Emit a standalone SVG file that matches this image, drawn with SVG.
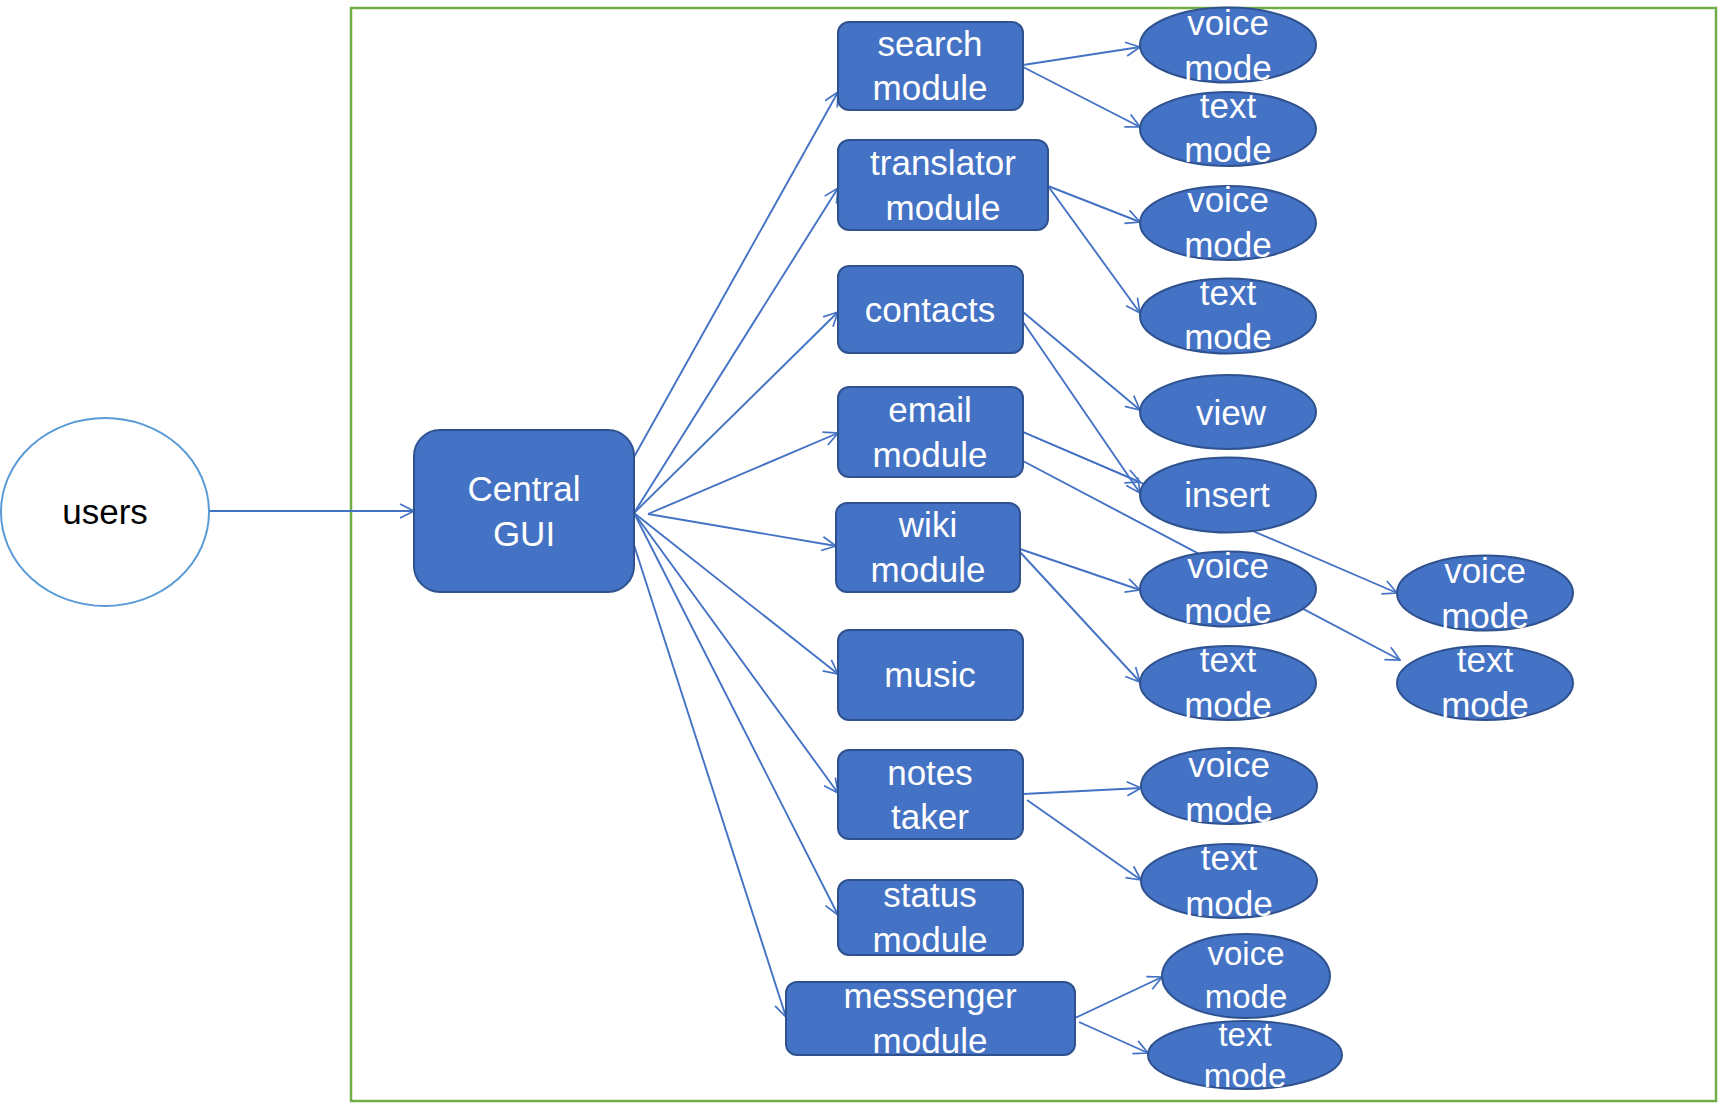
<svg xmlns="http://www.w3.org/2000/svg" width="1718" height="1103" viewBox="0 0 1718 1103">
<defs>
<marker id="arr" viewBox="0 0 16 16" markerWidth="16" markerHeight="16" refX="15" refY="8" orient="auto" markerUnits="userSpaceOnUse">
<path d="M1,1 L15,8 L1,15" fill="none" stroke="#4472C4" stroke-width="1.7"/>
</marker>
</defs>
<style>
.bg{fill:#FFFFFF}
.frame{fill:none;stroke:#70AD47;stroke-width:2.5}
.c{stroke:#4472C4;stroke-width:1.9;fill:none;marker-end:url(#arr)}
.n{fill:#4472C4;stroke:#2F528F;stroke-width:2}
.t{fill:#FFFFFF;font-family:"Liberation Sans",Arial,sans-serif;font-size:35px;text-anchor:middle}
.s{font-size:33px}
.u{fill:#FFFFFF;stroke:#5B9BD5;stroke-width:2}
.ut{fill:#000000;font-family:"Liberation Sans",Arial,sans-serif;font-size:35px;text-anchor:middle}
</style>
<rect class="bg" x="0" y="0" width="1718" height="1103"/>
<rect id="frame" class="frame" x="351" y="8" width="1365" height="1093"/>
<g id="connectors">
<line class="c" x1="209" y1="511" x2="414" y2="511"/>
<line class="c" x1="634" y1="457" x2="838" y2="92"/>
<line class="c" x1="634" y1="513" x2="838" y2="188"/>
<line class="c" x1="634" y1="513" x2="838" y2="312"/>
<line class="c" x1="648" y1="514" x2="838" y2="433"/>
<line class="c" x1="648" y1="514" x2="836" y2="546"/>
<line class="c" x1="634" y1="513" x2="838" y2="674"/>
<line class="c" x1="634" y1="513" x2="838" y2="793"/>
<line class="c" x1="634" y1="513" x2="838" y2="915"/>
<line class="c" x1="634" y1="545" x2="786" y2="1017"/>
<line class="c" x1="1023" y1="65" x2="1140" y2="47"/>
<line class="c" x1="1023" y1="67" x2="1140" y2="127"/>
<line class="c" x1="1048" y1="186" x2="1140" y2="222"/>
<line class="c" x1="1048" y1="186" x2="1140" y2="313"/>
<line class="c" x1="1023" y1="312" x2="1140" y2="410"/>
<line class="c" x1="1023" y1="322" x2="1140" y2="493"/>
<line class="c" x1="1023" y1="432" x2="1140" y2="482"/>
<line class="c" x1="1023" y1="432" x2="1397" y2="593"/>
<line class="c" x1="1023" y1="461" x2="1400" y2="660"/>
<line class="c" x1="1020" y1="549" x2="1140" y2="590"/>
<line class="c" x1="1020" y1="552" x2="1140" y2="682"/>
<line class="c" x1="1023" y1="794" x2="1141" y2="788"/>
<line class="c" x1="1027" y1="800" x2="1141" y2="880"/>
<line class="c" x1="1075" y1="1018" x2="1162" y2="977"/>
<line class="c" x1="1079" y1="1022" x2="1148" y2="1053"/>
</g>
<g id="users"><ellipse class="u" cx="105" cy="512" rx="104" ry="94"/><text class="ut" x="105" y="524">users</text></g>
<g id="central"><rect class="n" x="414" y="430" width="220" height="162" rx="26"/><text class="t" x="524" y="501">Central</text><text class="t" x="524" y="546">GUI</text></g>
<g id="search"><rect class="n" x="838" y="22" width="185" height="88" rx="11"/><text class="t" x="930" y="56">search</text><text class="t" x="930" y="100">module</text></g>
<g id="translator"><rect class="n" x="838" y="140" width="210" height="90" rx="11"/><text class="t" x="943" y="175">translator</text><text class="t" x="943" y="220">module</text></g>
<g id="contacts"><rect class="n" x="838" y="266" width="185" height="87" rx="11"/><text class="t" x="930" y="322">contacts</text></g>
<g id="email"><rect class="n" x="838" y="387" width="185" height="90" rx="11"/><text class="t" x="930" y="422">email</text><text class="t" x="930" y="467">module</text></g>
<g id="wiki"><rect class="n" x="836" y="503" width="184" height="89" rx="11"/><text class="t" x="928" y="537">wiki</text><text class="t" x="928" y="582">module</text></g>
<g id="music"><rect class="n" x="838" y="630" width="185" height="90" rx="11"/><text class="t" x="930" y="687">music</text></g>
<g id="notes"><rect class="n" x="838" y="750" width="185" height="89" rx="11"/><text class="t" x="930" y="785">notes</text><text class="t" x="930" y="829">taker</text></g>
<g id="status"><rect class="n" x="838" y="880" width="185" height="75" rx="11"/><text class="t" x="930" y="907">status</text><text class="t" x="930" y="952">module</text></g>
<g id="messenger"><rect class="n" x="786" y="982" width="289" height="73" rx="11"/><text class="t" x="930" y="1008">messenger</text><text class="t" x="930" y="1053">module</text></g>
<g id="search-voice"><ellipse class="n" cx="1228" cy="45" rx="88" ry="37.5"/><text class="t" x="1228" y="35">voice</text><text class="t" x="1228" y="80">mode</text></g>
<g id="search-text"><ellipse class="n" cx="1228" cy="129" rx="88" ry="37"/><text class="t" x="1228" y="118">text</text><text class="t" x="1228" y="162">mode</text></g>
<g id="translator-voice"><ellipse class="n" cx="1228" cy="223" rx="88" ry="37"/><text class="t" x="1228" y="212">voice</text><text class="t" x="1228" y="257">mode</text></g>
<g id="translator-text"><ellipse class="n" cx="1228" cy="316" rx="88" ry="37.5"/><text class="t" x="1228" y="305">text</text><text class="t" x="1228" y="349">mode</text></g>
<g id="view"><ellipse class="n" cx="1228" cy="412" rx="88" ry="37"/><text class="t" x="1231" y="425">view</text></g>
<g id="insert"><ellipse class="n" cx="1228" cy="495" rx="88" ry="37.5"/><text class="t" x="1227" y="507">insert</text></g>
<g id="wiki-voice"><ellipse class="n" cx="1228" cy="589" rx="88" ry="37.5"/><text class="t" x="1228" y="578">voice</text><text class="t" x="1228" y="623">mode</text></g>
<g id="wiki-text"><ellipse class="n" cx="1228" cy="683" rx="88" ry="37"/><text class="t" x="1228" y="672">text</text><text class="t" x="1228" y="717">mode</text></g>
<g id="email-voice"><ellipse class="n" cx="1485" cy="593" rx="88" ry="37.5"/><text class="t" x="1485" y="583">voice</text><text class="t" x="1485" y="628">mode</text></g>
<g id="email-text"><ellipse class="n" cx="1485" cy="683" rx="88" ry="37"/><text class="t" x="1485" y="672">text</text><text class="t" x="1485" y="717">mode</text></g>
<g id="notes-voice"><ellipse class="n" cx="1229" cy="786" rx="88" ry="38"/><text class="t" x="1229" y="777">voice</text><text class="t" x="1229" y="822">mode</text></g>
<g id="notes-text"><ellipse class="n" cx="1229" cy="881" rx="88" ry="37"/><text class="t" x="1229" y="870">text</text><text class="t" x="1229" y="916">mode</text></g>
<g id="messenger-voice"><ellipse class="n" cx="1246" cy="976" rx="84" ry="42"/><text class="t s" x="1246" y="965">voice</text><text class="t s" x="1246" y="1008">mode</text></g>
<g id="messenger-text"><ellipse class="n" cx="1245" cy="1055" rx="97" ry="34"/><text class="t s" x="1245" y="1046">text</text><text class="t s" x="1245" y="1087">mode</text></g>
</svg>
